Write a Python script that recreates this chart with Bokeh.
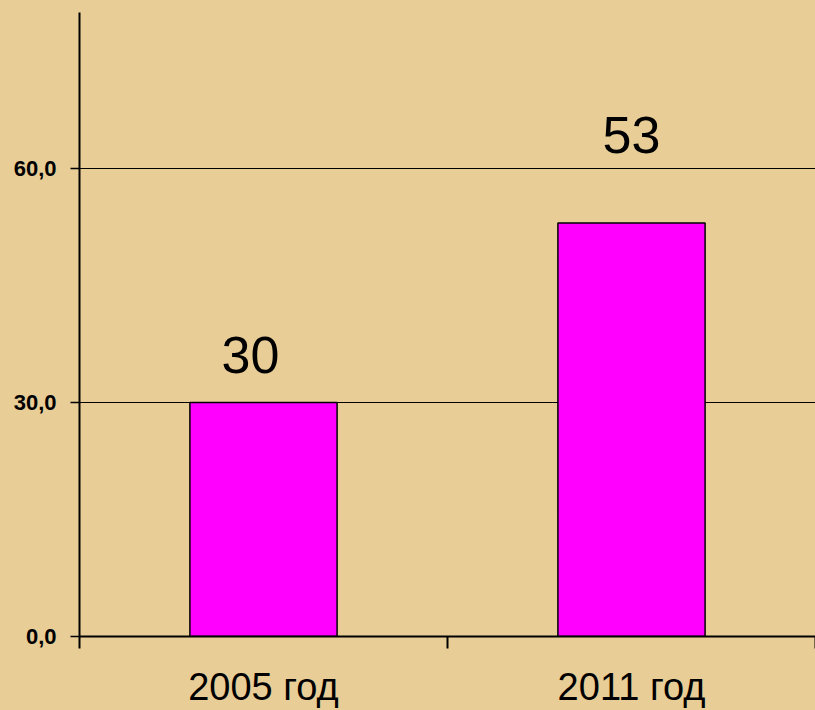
from bokeh.plotting import figure
from bokeh.models import ColumnDataSource, FixedTicker
from bokeh.core.properties import value
from bokeh.embed import file_html
from bokeh.resources import INLINE

# ---- data ----
categories = ["2005 год", "2011 год"]
values = [30, 53]
value_labels = ["30", "53"]
y_ticks = [0, 30, 60]
y_tick_labels = ["0,0", "30,0", "60,0"]

# ---- styles ----
BG = "#E8CD96"
FONT = "Liberation Sans"
label_dx = [-13, 0]
label_dy = [-48, -88]

x_centers = [i + 0.5 for i in range(len(categories))]

src = ColumnDataSource(dict(
    x=x_centers, top=values, lab=value_labels, dx=label_dx, dy=label_dy,
))

p = figure(width=815, height=710, output_backend="svg", toolbar_location=None,
           x_range=(0, 2), y_range=(0, 80),
           min_border_left=79, min_border_right=0, min_border_top=12,
           min_border_bottom=74)
p.background_fill_color = BG
p.border_fill_color = BG
p.outline_line_color = None

p.vbar(x="x", top="top", width=0.4, bottom=0, source=src,
       fill_color="#FF00FF", line_color="black", line_width=1.5)

p.text(x="x", y="top", text="lab", x_offset="dx", y_offset="dy", source=src,
       text_font=value(FONT), text_font_size="52px", text_align="center",
       text_baseline="alphabetic", text_color="black")

# y axis
p.yaxis.ticker = FixedTicker(ticks=y_ticks)
p.yaxis.major_label_overrides = {t: l for t, l in zip(y_ticks, y_tick_labels)}
p.yaxis.major_label_text_font = FONT
p.yaxis.major_label_text_font_style = "bold"
p.yaxis.major_label_text_font_size = "22px"
p.yaxis.major_label_text_color = "black"
p.yaxis.major_label_standoff = 14
p.yaxis.major_tick_out = 9
p.yaxis.major_tick_in = 0
p.yaxis.minor_tick_out = 0
p.yaxis.minor_tick_in = 0
p.yaxis.axis_line_width = 2
p.yaxis.axis_line_color = "black"
p.yaxis.major_tick_line_color = "black"
p.yaxis.major_tick_line_width = 1.5

# x axis: labels at category centres, tick marks at category boundaries
p.xaxis.ticker = FixedTicker(ticks=x_centers,
                             minor_ticks=list(range(len(categories) + 1)))
p.xaxis.major_label_overrides = {c: l for c, l in zip(x_centers, categories)}
p.xaxis.major_label_text_font = FONT
p.xaxis.major_label_text_font_size = "38px"
p.xaxis.major_label_text_color = "black"
p.xaxis.major_label_standoff = 17
p.xaxis.major_tick_out = 0
p.xaxis.major_tick_in = 0
p.xaxis.minor_tick_out = 12
p.xaxis.minor_tick_in = 0
p.xaxis.minor_tick_line_color = "black"
p.xaxis.minor_tick_line_width = 2
p.xaxis.axis_line_width = 2
p.xaxis.axis_line_color = "black"

# grid
p.xgrid.visible = False
p.ygrid.ticker = FixedTicker(ticks=y_ticks)
p.ygrid.grid_line_color = "black"
p.ygrid.grid_line_width = 1.2
p.ygrid.grid_line_alpha = 1.0

html = file_html(p, INLINE)
html = html.replace("</head>",
                    "<style>html, body { background-color: %s; }</style></head>" % BG, 1)
open("out.html", "w").write(html)
